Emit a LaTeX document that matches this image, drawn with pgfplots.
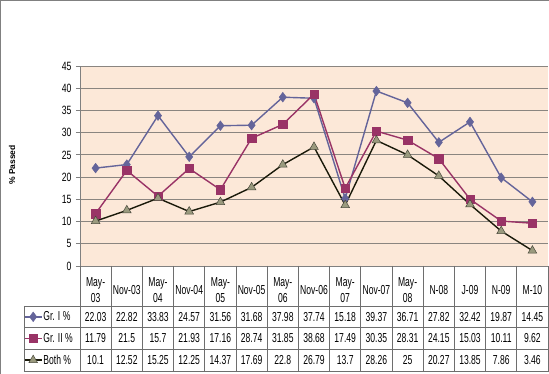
\documentclass[border=0pt]{standalone}
\usepackage{fontspec}
\setmainfont{Liberation Sans}
\newfontfamily\tabfont[FakeStretch=0.66]{Liberation Sans}
\newfontfamily\axfont[FakeStretch=0.72]{Liberation Sans}
\usepackage{pgfplots}
\usepackage{pgfplotstable}
\pgfplotsset{compat=1.18}
\definecolor{bgpeach}{HTML}{FCE8D8}
\definecolor{gridgray}{HTML}{8A8580}
\definecolor{axgray}{HTML}{808080}
\definecolor{gone}{HTML}{64649A}
\definecolor{gtwo}{HTML}{993366}
\definecolor{bothfill}{HTML}{9A9A7E}
\definecolor{bothline}{HTML}{1A1A0A}
\definecolor{tabline}{HTML}{6E6E6E}

\pgfplotstableread{
x g1 g2 both
0 22.03 11.79 10.1
1 22.82 21.5 12.52
2 33.83 15.7 15.25
3 24.57 21.93 12.25
4 31.56 17.16 14.37
5 31.68 28.74 17.69
6 37.98 31.85 22.8
7 37.74 38.68 26.79
8 15.18 17.49 13.7
9 39.37 30.35 28.26
10 36.71 28.31 25
11 27.82 24.15 20.27
12 32.42 15.03 13.85
13 19.87 10.11 7.86
14 14.45 9.62 3.46
}\datatable

\begin{document}
\begin{tikzpicture}
\path[use as bounding box] (-80pt,-108pt) rectangle (469pt,266pt);
\begin{axis}[
  scale only axis, width=468pt, height=200pt,
  xmin=-0.5, xmax=14.5, ymin=0, ymax=45,
  clip=false,
  axis background/.style={fill=bgpeach},
  axis x line=bottom, axis y line=left,
  axis line style={-, draw=axgray, line width=0.8pt},
  tick align=outside,
  ytick={0,5,...,45},
  ymajorgrids, grid style={draw=gridgray, line width=0.8pt},
  major tick length=4pt,
  ytick style={draw=axgray, line width=0.8pt},
  xtick={0,...,14}, xtick style={draw=none},
  xticklabels={{May-\\03},{Nov-03},{May-\\04},{Nov-04},{May-\\05},{Nov-05},{May-\\06},{Nov-06},{May-\\07},{Nov-07},{May-\\08},{N-08},{J-09},{N-09},{M-10}},
  xticklabel style={font=\tabfont\fontsize{13}{16}\selectfont, align=center, anchor=center, yshift=-20pt},
  /pgf/number format/assume math mode=true,
  yticklabel style={font=\axfont\fontsize{12}{12}\selectfont, xshift=-1pt},
  ylabel={\% Passed},
  every axis y label/.style={rotate=90, at={(axis description cs:-0.1453,0.505)}, anchor=center, font=\bfseries\fontsize{8.5}{9}\selectfont},
  legend style={at={(axis description cs:-0.1197,-0.2)}, anchor=north west, draw=none, fill=none,
     font=\tabfont\fontsize{13}{13}\selectfont, row sep=0pt, inner sep=0pt, outer sep=0pt,
     nodes={inner sep=0pt, minimum height=21.67pt},
     /tikz/every odd column/.append style={column sep=1pt}},
  legend cell align=left,
  legend image code/.code={\draw[#1] (0pt,0pt) -- (17pt,0pt); \draw[#1, mark repeat=2, mark phase=2] plot coordinates {(0pt,0pt) (8.5pt,0pt) (17pt,0pt)};},
]
\addplot[color=gone, line width=1.4pt, mark=diamond*, mark size=4.8pt, mark options={fill=gone, draw=gone, line width=0.5pt}]
  table[x=x, y=g1] {\datatable};
\addlegendentry{Gr. I \%}
\addplot[color=gtwo, line width=1.4pt, mark=square*, mark size=4.2pt, mark options={fill=gtwo, draw=gtwo, line width=0.5pt}]
  table[x=x, y=g2] {\datatable};
\addlegendentry{Gr. II \%}
\addplot[color=bothline, line width=1.4pt, mark=triangle*, mark size=5pt, mark options={fill=bothfill, draw=bothline!80, line width=0.5pt}]
  table[x=x, y=both] {\datatable};
\addlegendentry{Both \%}

\addplot[draw=none, mark=none, forget plot, nodes near coords, point meta=explicit symbolic,
  every node near coord/.append style={anchor=center, yshift=-50.83pt, inner sep=0pt, text=black, font=\tabfont\fontsize{13}{13}\selectfont}]
  table[x=x, y expr=0, meta=g1] {\datatable};
\addplot[draw=none, mark=none, forget plot, nodes near coords, point meta=explicit symbolic,
  every node near coord/.append style={anchor=center, yshift=-72.5pt, inner sep=0pt, text=black, font=\tabfont\fontsize{13}{13}\selectfont}]
  table[x=x, y expr=0, meta=g2] {\datatable};
\addplot[draw=none, mark=none, forget plot, nodes near coords, point meta=explicit symbolic,
  every node near coord/.append style={anchor=center, yshift=-94.5pt, inner sep=0pt, text=black, font=\tabfont\fontsize{13}{13}\selectfont}]
  table[x=x, y expr=0, meta=both] {\datatable};
\end{axis}
% data table grid
\foreach \yy in {-40,-61.67,-83.33,-105.67}
  \draw[tabline, line width=0.7pt] (-56pt,\yy pt) -- (468pt,\yy pt);
\draw[tabline, line width=0.7pt] (-56pt,-40pt) -- (-56pt,-105.67pt);
\foreach \k in {0,...,15}
  \draw[tabline, line width=0.7pt] ({\k*31.2pt},0pt) -- ({\k*31.2pt},-105.67pt);
% chart area border
\draw[axgray, line width=1.5pt] (-79.25pt,-108pt) -- (-79.25pt,265.25pt) -- (469pt,265.25pt);
\end{tikzpicture}
\end{document}
